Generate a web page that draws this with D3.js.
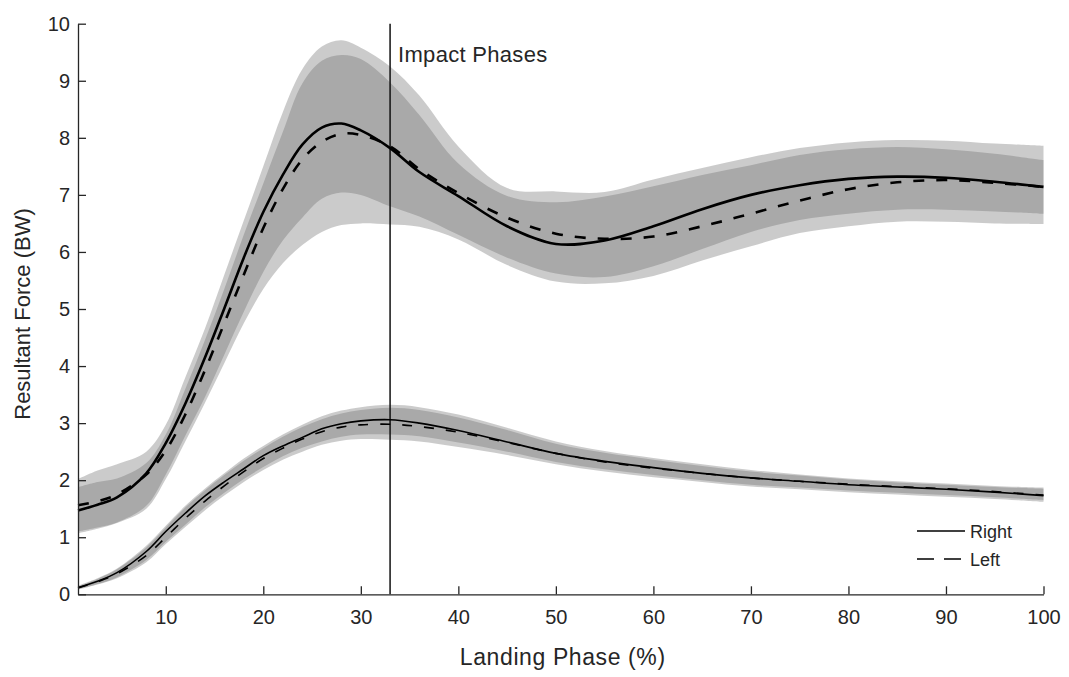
<!DOCTYPE html>
<html>
<head>
<meta charset="utf-8">
<script src="https://cdn.jsdelivr.net/npm/d3@7"></script>
<style>
  body { margin: 0; background: #fff; }
  text { font-family: "Liberation Sans", Arial, sans-serif; fill: #262626; }
</style>
</head>
<body>
<div id="chart"></div>
<script>
// landing phase (%) sample points
const phase = [1, 3, 5, 8, 10, 12, 14, 16, 18, 20, 22, 24, 26, 28, 30, 33, 36, 40, 45, 50, 55, 60, 65, 70, 75, 80, 85, 90, 95, 100];

// upper curves (means)
const upperRight = [1.47, 1.57, 1.70, 2.12, 2.65, 3.34, 4.14, 5.01, 5.9, 6.7, 7.35, 7.88, 8.18, 8.25, 8.13, 7.82, 7.4, 6.98, 6.45, 6.14, 6.2, 6.45, 6.75, 7.0, 7.17, 7.28, 7.32, 7.3, 7.23, 7.14];
const upperLeft = [1.56, 1.63, 1.75, 2.1, 2.52, 3.15, 3.92, 4.75, 5.6, 6.42, 7.1, 7.62, 7.93, 8.07, 8.05, 7.85, 7.45, 7.03, 6.6, 6.32, 6.23, 6.27, 6.45, 6.67, 6.9, 7.1, 7.22, 7.26, 7.21, 7.14];
// upper bands
const upperRightLo = [1.1, 1.17, 1.26, 1.55, 2.1, 2.78, 3.45, 4.2, 4.95, 5.65, 6.2, 6.6, 6.93, 7.04, 7.0, 6.8, 6.62, 6.3, 5.9, 5.62, 5.56, 5.75, 6.05, 6.35, 6.56, 6.67, 6.74, 6.74, 6.71, 6.67];
const upperRightHi = [1.88, 1.97, 2.03, 2.3, 2.8, 3.6, 4.45, 5.35, 6.3, 7.2, 8.1, 8.95, 9.35, 9.45, 9.38, 8.97, 8.4, 7.55, 6.98, 6.87, 6.97, 7.15, 7.35, 7.52, 7.7, 7.8, 7.84, 7.8, 7.72, 7.61];
const upperLeftLo = [1.07, 1.15, 1.25, 1.5, 2.02, 2.68, 3.35, 4.05, 4.75, 5.35, 5.8, 6.12, 6.35, 6.47, 6.5, 6.48, 6.44, 6.22, 5.77, 5.48, 5.45, 5.58, 5.85, 6.1, 6.33, 6.45, 6.53, 6.53, 6.5, 6.49];
const upperLeftHi = [2.02, 2.17, 2.28, 2.5, 2.97, 3.8, 4.65, 5.6, 6.55, 7.5, 8.45, 9.2, 9.6, 9.71, 9.58, 9.25, 8.74, 7.85, 7.12, 7.06, 7.05, 7.27, 7.47, 7.66, 7.82, 7.92, 7.96, 7.95, 7.9, 7.86];

// lower curves (means)
const lowerRight = [0.12, 0.23, 0.38, 0.75, 1.1, 1.42, 1.72, 1.97, 2.2, 2.43, 2.6, 2.75, 2.9, 2.99, 3.04, 3.06, 3.0, 2.87, 2.67, 2.47, 2.33, 2.22, 2.12, 2.04, 1.98, 1.92, 1.88, 1.84, 1.79, 1.73];
const lowerLeft = [0.11, 0.22, 0.36, 0.68, 1.0, 1.33, 1.63, 1.9, 2.15, 2.38, 2.56, 2.72, 2.85, 2.93, 2.97, 2.98, 2.94, 2.84, 2.66, 2.47, 2.32, 2.21, 2.12, 2.04, 1.98, 1.93, 1.89, 1.85, 1.8, 1.74];
// lower bands
const lowerRightLo = [0.09, 0.18, 0.3, 0.6, 0.92, 1.22, 1.52, 1.78, 2.02, 2.23, 2.42, 2.57, 2.68, 2.76, 2.8, 2.8, 2.77, 2.66, 2.5, 2.32, 2.19, 2.09, 2.0, 1.92, 1.87, 1.82, 1.78, 1.74, 1.7, 1.65];
const lowerRightHi = [0.14, 0.27, 0.44, 0.82, 1.17, 1.52, 1.82, 2.09, 2.34, 2.56, 2.76, 2.93, 3.07, 3.17, 3.23, 3.27, 3.23, 3.1, 2.88, 2.64, 2.48, 2.36, 2.25, 2.15, 2.08, 2.01, 1.96, 1.92, 1.88, 1.85];
const lowerLeftLo = [0.08, 0.17, 0.28, 0.56, 0.88, 1.18, 1.47, 1.73, 1.97, 2.18, 2.36, 2.5, 2.62, 2.69, 2.72, 2.71, 2.68, 2.58, 2.44, 2.28, 2.15, 2.05, 1.97, 1.89, 1.84, 1.79, 1.75, 1.71, 1.67, 1.62];
const lowerLeftHi = [0.15, 0.28, 0.45, 0.85, 1.2, 1.55, 1.85, 2.12, 2.38, 2.6, 2.8, 2.97, 3.12, 3.22, 3.28, 3.32, 3.28, 3.15, 2.92, 2.68, 2.51, 2.39, 2.28, 2.18, 2.1, 2.03, 1.98, 1.94, 1.9, 1.87];

const impactPhase = 33;
const xTicks = [10, 20, 30, 40, 50, 60, 70, 80, 90, 100];
const yTicks = [0, 1, 2, 3, 4, 5, 6, 7, 8, 9, 10];

const W = 1069, H = 677;
const margin = { top: 23.7, right: 25.5, bottom: 82.7, left: 78 };
const width = W - margin.left - margin.right;
const height = H - margin.top - margin.bottom;

const svg = d3.select("#chart")
    .append("svg")
    .attr("width", W)
    .attr("height", H)
    .append("g")
    .attr("transform", `translate(${margin.left},${margin.top})`);

const x = d3.scaleLinear().domain([1, 100]).range([0, width]);
const y = d3.scaleLinear().domain([0, 10]).range([height, 0]);
const curve = d3.curveCatmullRom.alpha(0.5);

// bands
function band(lo, hi) {
    return d3.area()
        .x((d, i) => x(phase[i]))
        .y0((d, i) => y(lo[i]))
        .y1((d, i) => y(hi[i]))
        .curve(curve)(phase);
}
[[upperRightLo, upperRightHi], [upperLeftLo, upperLeftHi],
 [lowerRightLo, lowerRightHi], [lowerLeftLo, lowerLeftHi]].forEach(b => {
    svg.append("path")
        .attr("d", band(b[0], b[1]))
        .attr("fill", "#696969")
        .attr("fill-opacity", 0.35);
});

// impact phase marker
svg.append("line")
    .attr("x1", x(impactPhase)).attr("x2", x(impactPhase))
    .attr("y1", y(10)).attr("y2", y(0))
    .attr("stroke", "#111")
    .attr("stroke-width", 1.5);

svg.append("text")
    .attr("x", x(impactPhase) + 8)
    .attr("y", y(10) + 38)
    .attr("font-size", 22)
    .attr("letter-spacing", 0.3)
    .text("Impact Phases");

// mean curves
const line = vals => d3.line()
    .x((d, i) => x(phase[i]))
    .y((d, i) => y(vals[i]))
    .curve(curve)(phase);

const curves = [
    { v: upperRight, w: 2.6, dash: null },
    { v: upperLeft, w: 2.6, dash: "11,12" },
    { v: lowerRight, w: 1.6, dash: null },
    { v: lowerLeft, w: 1.6, dash: "10,12" }
];
curves.forEach(c => {
    svg.append("path")
        .attr("d", line(c.v))
        .attr("fill", "none")
        .attr("stroke", "#000")
        .attr("stroke-width", c.w)
        .attr("stroke-dasharray", c.dash);
});

// axes (ticks inward, no box)
const axisColor = "#262626";
const xAxis = svg.append("g")
    .attr("transform", `translate(0,${height})`)
    .call(d3.axisBottom(x).tickValues(xTicks).tickSizeInner(-8).tickSizeOuter(0).tickPadding(16));
const yAxis = svg.append("g")
    .call(d3.axisLeft(y).tickValues(yTicks).tickSizeInner(-8).tickSizeOuter(0).tickPadding(8));
[xAxis, yAxis].forEach(a => {
    a.select(".domain").attr("stroke", axisColor).attr("stroke-width", 1.3);
    a.selectAll(".tick line").attr("stroke", axisColor).attr("stroke-width", 1.3);
    a.selectAll(".tick text").attr("font-size", 20)
        .attr("font-family", "Liberation Sans, Arial, sans-serif")
        .attr("fill", axisColor);
});

// axis labels
svg.append("text")
    .attr("text-anchor", "middle")
    .attr("x", width / 2 + 2)
    .attr("y", height + 71)
    .attr("font-size", 23)
    .attr("letter-spacing", 0.6)
    .text("Landing Phase (%)");

svg.append("text")
    .attr("text-anchor", "middle")
    .attr("transform", `translate(${-margin.left + 30},${height / 2 + 5}) rotate(-90)`)
    .attr("font-size", 22)
    .text("Resultant Force (BW)");

// legend
const legend = svg.append("g").attr("transform", `translate(${917 - margin.left},${531 - margin.top})`);
[{ name: "Right", dash: null }, { name: "Left", dash: "17,10" }].forEach((d, i) => {
    legend.append("line")
        .attr("x1", 0).attr("x2", 48)
        .attr("y1", i * 28).attr("y2", i * 28)
        .attr("stroke", "#000")
        .attr("stroke-width", 1.6)
        .attr("stroke-dasharray", d.dash);
    legend.append("text")
        .attr("x", 53)
        .attr("y", i * 28 + 6.5)
        .attr("font-size", 18)
        .text(d.name);
});
</script>
</body>
</html>
